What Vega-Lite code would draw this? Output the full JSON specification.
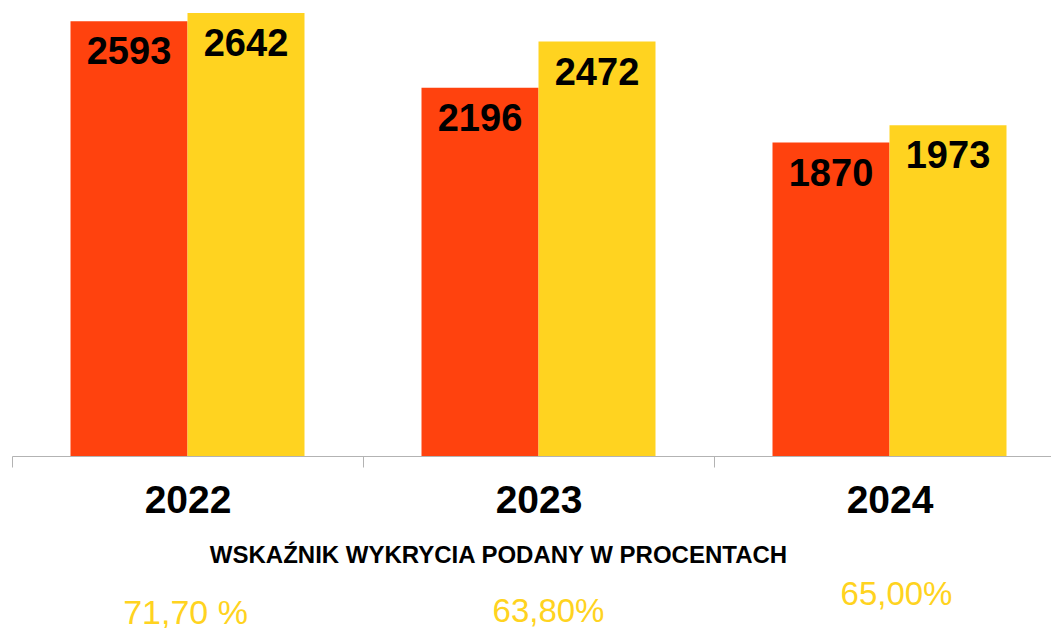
{
  "$schema": "https://vega.github.io/schema/vega-lite/v6.json",
  "padding": {"left": 11, "top": 0, "right": 0, "bottom": 0},
  "spacing": 0,
  "background": "white",
  "config": {"view": {"stroke": null}, "font": "Liberation Sans"},
  "datasets": {
    "bars": [
      {"year": "2022", "series": "A", "value": 2593},
      {"year": "2022", "series": "B", "value": 2642},
      {"year": "2023", "series": "A", "value": 2196},
      {"year": "2023", "series": "B", "value": 2472},
      {"year": "2024", "series": "A", "value": 1870},
      {"year": "2024", "series": "B", "value": 1973}
    ],
    "pct": [
      {"year": "2022", "label": "71,70 %"},
      {"year": "2023", "label": "63,80%"},
      {"year": "2024", "label": "65,00%"}
    ]
  },
  "vconcat": [
    {
      "width": 1053,
      "height": 456,
      "data": {"name": "bars"},
      "encoding": {
        "x": {
          "field": "year",
          "type": "nominal",
          "scale": {"paddingInner": 0, "paddingOuter": 0},
          "axis": {
            "labelAngle": 0,
            "labelFontSize": 39,
            "labelFontWeight": "bold",
            "labelColor": "#000000",
            "labelPadding": 14,
            "tickBand": "extent",
            "tickSize": 11,
            "tickColor": "#b3b3b3",
            "domainColor": "#b3b3b3",
            "title": "WSKAŹNIK WYKRYCIA PODANY W PROCENTACH",
            "titleFontSize": 24,
            "titleFontWeight": "bold",
            "titleColor": "#000000",
            "titleX": 486,
            "titlePadding": 23
          }
        },
        "xOffset": {"field": "series", "scale": {"paddingInner": 0, "paddingOuter": 0.5}},
        "y": {"field": "value", "type": "quantitative", "scale": {"domain": [0, 2720]}, "axis": null}
      },
      "layer": [
        {
          "mark": {"type": "bar"},
          "encoding": {
            "color": {
              "field": "series",
              "type": "nominal",
              "scale": {"domain": ["A", "B"], "range": ["#FF420E", "#FFD320"]},
              "legend": null
            }
          }
        },
        {
          "mark": {"type": "text", "baseline": "alphabetic", "dy": 43, "fontSize": 38, "fontWeight": "bold", "color": "#000000"},
          "encoding": {"text": {"field": "value", "type": "quantitative"}}
        }
      ]
    },
    {
      "width": 1053,
      "height": 60,
      "data": {"name": "pct"},
      "encoding": {
        "x": {"field": "year", "type": "nominal", "scale": {"paddingInner": 0, "paddingOuter": 0}, "axis": null},
        "text": {"field": "label", "type": "nominal"}
      },
      "layer": [
        {
          "transform": [{"filter": "datum.year === '2022'"}],
          "mark": {"type": "text", "baseline": "alphabetic", "dy": 27, "dx": -2, "fontSize": 34, "color": "#FFD320"}
        },
        {
          "transform": [{"filter": "datum.year === '2023'"}],
          "mark": {"type": "text", "baseline": "alphabetic", "dy": 25, "dx": 10, "fontSize": 33, "color": "#FFD320"}
        },
        {
          "transform": [{"filter": "datum.year === '2024'"}],
          "mark": {"type": "text", "baseline": "alphabetic", "dy": 8, "dx": 7, "fontSize": 33, "color": "#FFD320"}
        }
      ]
    }
  ]
}
